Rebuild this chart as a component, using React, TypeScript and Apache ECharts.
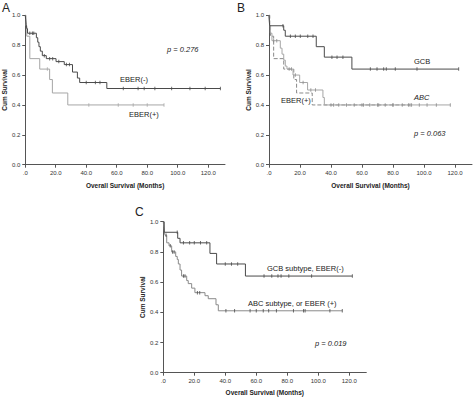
import React, { useEffect, useRef } from "react";
import * as echarts from "echarts";

// ---------- data ----------
const xTickValues = [0, 20, 40, 60, 80, 100, 120];
const yTickValues = [0, 0.2, 0.4, 0.6, 0.8, 1.0];

// Panel A
const aEberNegSteps = [
  [0, 1.0], [0.3, 0.97], [0.6, 0.94], [1.0, 0.91], [1.5, 0.88], [7.3, 0.85], [8.2, 0.82],
  [9.0, 0.79], [9.9, 0.76], [11.2, 0.73], [13.8, 0.71], [20.2, 0.69], [25.6, 0.67],
  [31.0, 0.62], [34.2, 0.58], [35.7, 0.55], [53.5, 0.51], [128.0, 0.51],
];
const aEberNegCensor = [
  [3.0, 0.88], [4.7, 0.88], [5.6, 0.88], [12.5, 0.73], [16.0, 0.71], [18.0, 0.71],
  [22.0, 0.69], [27.0, 0.67], [29.0, 0.67], [40.0, 0.55], [46.0, 0.55], [49.0, 0.55],
  [64.3, 0.51], [74.0, 0.51], [78.0, 0.51], [85.0, 0.51], [96.0, 0.51], [108.0, 0.51],
  [118.0, 0.51], [128.0, 0.51],
];
const eberPosSteps = [
  [0, 1.0], [0.5, 0.93], [1.0, 0.86], [3.0, 0.71], [9.5, 0.64], [16.0, 0.57],
  [17.8, 0.48], [27.9, 0.40], [91.0, 0.40],
];
const eberPosCensor = [
  [14.5, 0.64], [41.7, 0.40], [61.0, 0.40], [70.8, 0.40], [80.0, 0.40], [91.0, 0.40],
];

// Panel B
const bGcbSteps = [
  [0, 1.0], [0.4, 0.93], [9.5, 0.9], [10.5, 0.86], [30.5, 0.79], [35.7, 0.72],
  [53.5, 0.64], [122.4, 0.64],
];
const bGcbCensor = [
  [9.0, 0.93], [13.8, 0.86], [17.0, 0.86], [20.2, 0.86], [25.0, 0.86], [28.4, 0.86],
  [40.6, 0.72], [43.9, 0.72], [47.7, 0.72], [65.4, 0.64], [69.7, 0.64], [74.0, 0.64],
  [75.7, 0.64], [81.5, 0.64], [95.5, 0.64], [122.4, 0.64],
];
const bAbcSteps = [
  [0, 1.0], [0.4, 0.93], [0.9, 0.88], [1.9, 0.83], [7.3, 0.78], [8.4, 0.74], [9.5, 0.7],
  [10.5, 0.66], [11.6, 0.64], [15.5, 0.6], [19.8, 0.55], [24.9, 0.5], [34.8, 0.45],
  [35.7, 0.4], [117.0, 0.4],
];
const bAbcCensor = [
  [3.0, 0.83], [5.0, 0.83], [13.0, 0.64], [17.0, 0.6], [22.0, 0.55], [27.0, 0.5],
  [30.0, 0.5], [40.0, 0.4], [45.0, 0.4], [50.0, 0.4], [55.0, 0.4], [60.0, 0.4],
  [65.0, 0.4], [70.0, 0.4], [75.0, 0.4], [80.0, 0.4], [86.0, 0.4], [90.0, 0.4],
  [92.0, 0.4], [97.0, 0.4], [102.0, 0.4], [108.0, 0.4], [117.0, 0.4],
];

// Panel C
const cGcbSteps = [
  [0, 1.0], [0.6, 0.93], [9.3, 0.89], [10.8, 0.86], [30.1, 0.79], [34.4, 0.72],
  [53.0, 0.64], [122.0, 0.64],
];
const cGcbCensor = [
  [9.0, 0.93], [13.0, 0.86], [17.0, 0.86], [20.0, 0.86], [24.0, 0.86], [28.0, 0.86],
  [40.0, 0.72], [44.0, 0.72], [48.0, 0.72], [65.0, 0.64], [70.0, 0.64], [74.0, 0.64],
  [76.0, 0.64], [81.0, 0.64], [95.7, 0.64], [122.0, 0.64],
];
const cAbcSteps = [
  [0, 1.0], [0.3, 0.96], [0.7, 0.93], [1.1, 0.91], [2.2, 0.86], [3.7, 0.84], [5.4, 0.8],
  [8.0, 0.77], [9.0, 0.75], [9.7, 0.72], [10.8, 0.68], [11.8, 0.64], [15.1, 0.61],
  [16.1, 0.59], [18.3, 0.56], [20.4, 0.53], [26.9, 0.51], [29.0, 0.49], [34.0, 0.45],
  [35.5, 0.41], [115.5, 0.41],
];
const cAbcCensor = [
  [1.8, 0.91], [4.5, 0.84], [6.0, 0.8], [7.0, 0.8], [13.0, 0.64], [14.0, 0.64],
  [22.0, 0.53], [23.5, 0.53], [40.4, 0.41], [46.0, 0.41], [56.0, 0.41], [60.0, 0.41],
  [64.5, 0.41], [68.0, 0.41], [73.0, 0.41], [84.0, 0.41], [90.5, 0.41], [91.5, 0.41],
  [107.5, 0.41], [115.5, 0.41],
];

// ---------- styling ----------
const FONT = "Liberation Sans";
const AXIS_COLOR = "#555";
const DARK = "#4a4a4a";
const MID = "#8a8a8a";
const LIGHT = "#a6a6a6";

const grids = [
  { left: 22, top: 15.3, width: 203, height: 149.4, yNameGap: 11.5, xNameGap: 17 },
  { left: 269, top: 15.3, width: 203, height: 149.4, yNameGap: 12.5, xNameGap: 17 },
  { left: 163.3, top: 221.7, width: 203, height: 151, yNameGap: 16, xNameGap: 16 },
];

function stepSeries(data: number[][], gi: number, color: string, type: string = "solid") {
  return {
    type: "line",
    xAxisIndex: gi,
    yAxisIndex: gi,
    data,
    step: "end",
    showSymbol: false,
    symbol: "none",
    lineStyle: { color, width: 1, type },
    silent: true,
    z: 2,
  };
}
function censorSeries(data: number[][], gi: number, color: string) {
  return {
    type: "scatter",
    xAxisIndex: gi,
    yAxisIndex: gi,
    data,
    symbol: "rect",
    symbolSize: [1, 3.5],
    itemStyle: { color },
    silent: true,
    z: 3,
  };
}

function text(str: string, x: number, y: number, opts: any = {}) {
  return {
    type: "text",
    x,
    y,
    style: {
      text: str,
      fontFamily: FONT,
      fontSize: opts.fontSize ?? 7.5,
      fontStyle: opts.italic ? "italic" : "normal",
      fontWeight: opts.bold ? "bold" : "normal",
      fill: opts.fill ?? "#222",
      verticalAlign: "middle",
      align: "left",
    },
    silent: true,
  };
}

export default function App() {
  const ref = useRef<HTMLDivElement>(null);

  useEffect(() => {
    document.body.style.margin = "0";
    if (!ref.current) return;
    const chart = echarts.init(ref.current, undefined, { renderer: "svg" });

    const xAxis = grids.map((g, i) => ({
      type: "value",
      gridIndex: i,
      min: 0,
      max: 131,
      interval: 20,
      name: "Overall Survival (Months)",
      nameLocation: "middle",
      nameGap: g.xNameGap,
      nameTextStyle: { fontFamily: FONT, fontSize: 6.5, fontWeight: "bold", color: "#222" },
      axisLine: { show: true, onZero: false, lineStyle: { color: AXIS_COLOR, width: 1 } },
      axisTick: { show: true, length: 3, lineStyle: { color: AXIS_COLOR }, customValues: xTickValues },
      axisLabel: {
        fontFamily: FONT,
        fontSize: 6,
        color: "#333",
        margin: 5,
        customValues: xTickValues,
        formatter: (v: number) => (v === 0 ? ".0" : v.toFixed(1)),
      },
      splitLine: { show: false },
    }));
    const yAxis = grids.map((g, i) => ({
      type: "value",
      gridIndex: i,
      min: 0,
      max: 1,
      interval: 0.2,
      name: "Cum Survival",
      nameLocation: "middle",
      nameGap: g.yNameGap,
      nameTextStyle: { fontFamily: FONT, fontSize: 6.5, fontWeight: "bold", color: "#222" },
      axisLine: { show: true, onZero: false, lineStyle: { color: AXIS_COLOR, width: 1 } },
      axisTick: { show: true, length: 3, lineStyle: { color: AXIS_COLOR }, customValues: yTickValues },
      axisLabel: {
        fontFamily: FONT,
        fontSize: 6,
        color: "#333",
        margin: 5,
        customValues: yTickValues,
        formatter: (v: number) => v.toFixed(1),
      },
      splitLine: { show: false },
    }));

    const option: any = {
      animation: false,
      backgroundColor: "#fff",
      grid: grids.map((g) => ({ left: g.left, top: g.top, width: g.width, height: g.height, containLabel: false })),
      xAxis,
      yAxis,
      series: [
        stepSeries(eberPosSteps, 0, LIGHT),
        censorSeries(eberPosCensor, 0, LIGHT),
        stepSeries(aEberNegSteps, 0, DARK),
        censorSeries(aEberNegCensor, 0, DARK),

        stepSeries(eberPosSteps, 1, MID, "dashed"),
        censorSeries(eberPosCensor, 1, MID),
        stepSeries(bAbcSteps, 1, LIGHT),
        censorSeries(bAbcCensor, 1, MID),
        stepSeries(bGcbSteps, 1, DARK),
        censorSeries(bGcbCensor, 1, DARK),

        stepSeries(cAbcSteps, 2, MID),
        censorSeries(cAbcCensor, 2, DARK),
        stepSeries(cGcbSteps, 2, DARK),
        censorSeries(cGcbCensor, 2, DARK),
      ],
      graphic: [
        text("A", 2, 8, { fontSize: 12 }),
        text("B", 237, 8, { fontSize: 12 }),
        text("C", 135, 212, { fontSize: 12 }),

        text("p = 0.276", 167, 49, { italic: true }),
        text("EBER(-)", 120, 79),
        text("EBER(+)", 129, 114),

        text("GCB", 414, 61),
        text("ABC", 414, 97, { italic: true }),
        text("EBER(+)", 281, 100),
        text("p = 0.063", 414, 133, { italic: true }),

        text("GCB subtype, EBER(-)", 267, 268),
        text("ABC subtype, or EBER (+)", 248, 303),
        text("p = 0.019", 315, 343, { italic: true }),
      ],
    };
    chart.setOption(option);
    return () => chart.dispose();
  }, []);

  return <div ref={ref} style={{ width: 474, height: 398 }} />;
}
